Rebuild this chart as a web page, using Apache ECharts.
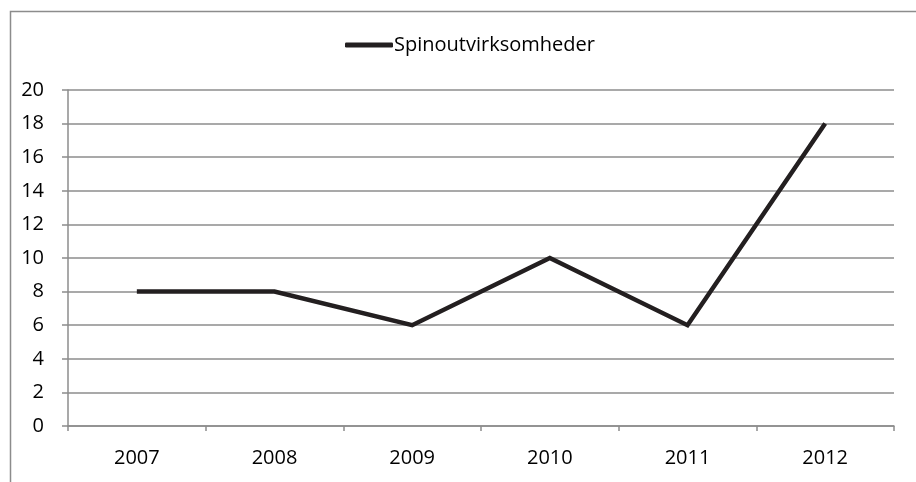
<!DOCTYPE html>
<html><head><meta charset="utf-8">
<script src="https://cdn.jsdelivr.net/npm/echarts@6/dist/echarts.min.js"></script>
<style>html,body{margin:0;padding:0;background:#fff}#c{width:916px;height:482px}</style>
</head><body><div id="c"></div>
<script>
var categories = ['2007','2008','2009','2010','2011','2012'];
var seriesName = 'Spinoutvirksomheder';
var values = [8, 8, 6, 10, 6, 18];
var yTicks = {min: 0, max: 20, interval: 2};

var chart = echarts.init(document.getElementById('c'));
var font = '"Open Sans", "Liberation Sans", sans-serif';
chart.setOption({
  animation: false,
  backgroundColor: '#fff',
  graphic: [{
    type: 'rect', left: 8, top: 9,
    shape: {x: 0, y: 0, width: 1000, height: 1000},
    style: {fill: 'none', stroke: '#8c8c8c', lineWidth: 1.5}
  }],
  legend: {
    data: [{name: seriesName, icon: 'roundRect'}],
    top: 30, left: 340,
    itemWidth: 48, itemHeight: 5, itemGap: 2,
    itemStyle: {color: '#231f20'},
    textStyle: {fontFamily: font, fontSize: 20, color: '#000', padding: [0,0,0,-4]}
  },
  grid: {left: 68, right: 22, top: 90, bottom: 56},
  xAxis: {
    type: 'category', data: categories, boundaryGap: true,
    axisLine: {lineStyle: {color: '#8c8c8c', width: 1.5}},
    axisTick: {show: true, length: 5, lineStyle: {color: '#8c8c8c', width: 1.5}},
    axisLabel: {fontFamily: font, fontSize: 20, color: '#000', margin: 22}
  },
  yAxis: {
    type: 'value', min: yTicks.min, max: yTicks.max, interval: yTicks.interval,
    axisLine: {show: true, lineStyle: {color: '#8c8c8c', width: 1.5}},
    axisTick: {show: true, length: 6, inside: false, lineStyle: {color: '#8c8c8c', width: 1.5}},
    axisLabel: {fontFamily: font, fontSize: 20, color: '#000', margin: 24},
    splitLine: {lineStyle: {color: '#8c8c8c', width: 1.5}}
  },
  series: [{
    name: seriesName, type: 'line', data: values,
    symbol: 'none',
    lineStyle: {color: '#231f20', width: 4.5, join: 'miter'},
    itemStyle: {color: '#231f20'}
  }]
});
</script></body></html>
